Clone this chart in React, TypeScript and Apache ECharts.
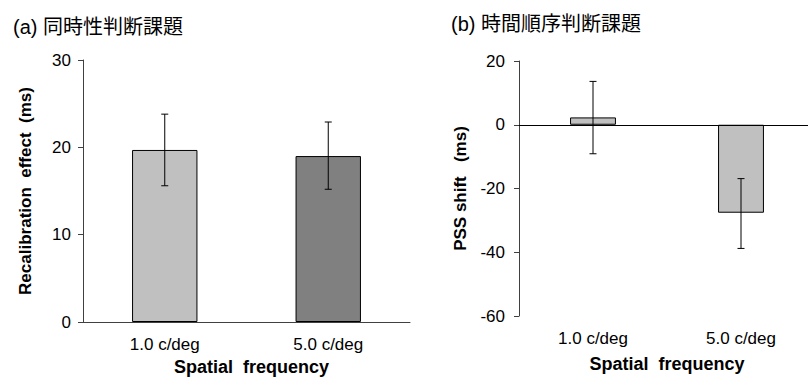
import React, { useEffect, useRef } from "react";
import * as echarts from "echarts";

const categories = ["1.0 c/deg", "5.0 c/deg"];
const sjMeans = [19.7, 19.0];
const sjLow = [15.6, 15.2];
const sjHigh = [23.8, 22.9];
const sjColors = ["#c0c0c0", "#808080"];
const tojMeans = [2.3, -27.6];
const tojLow = [-9.1, -38.8];
const tojHigh = [13.6, -16.9];
const tojColors = ["#c0c0c0", "#c0c0c0"];
const sjTicks = { min: 0, max: 30, interval: 10 };
const tojTicks = { min: -60, max: 20, interval: 20 };

const FONT = "'Liberation Sans', Arial, 'Noto Sans CJK JP', sans-serif";
const AXIS_COLOR = "#404040";

function errorSeries(low: number[], high: number[], xi: number, yi: number) {
  return {
    type: "custom",
    xAxisIndex: xi,
    yAxisIndex: yi,
    silent: true,
    z: 10,
    data: categories.map((_, i) => [i, low[i], high[i]]),
    renderItem: (params: any, api: any) => {
      const i = api.value(0);
      const lo = api.coord([i, api.value(1)]);
      const hi = api.coord([i, api.value(2)]);
      const hw = 3.5;
      const style = { stroke: "#000", lineWidth: 1 };
      return {
        type: "group",
        children: [
          { type: "line", shape: { x1: lo[0], y1: lo[1], x2: hi[0], y2: hi[1] }, style },
          { type: "line", shape: { x1: lo[0] - hw, y1: lo[1], x2: lo[0] + hw, y2: lo[1] }, style },
          { type: "line", shape: { x1: hi[0] - hw, y1: hi[1], x2: hi[0] + hw, y2: hi[1] }, style },
        ],
      };
    },
  };
}

export default function App() {
  const ref = useRef<HTMLDivElement>(null);
  useEffect(() => {
    document.body.style.margin = "0";
    const chart = echarts.init(ref.current!, null, { renderer: "svg" });
    const labelStyle = { color: "#000", fontSize: 17, fontFamily: FONT };
    const xNameStyle = { color: "#000", fontSize: 18, fontWeight: "bold" as const, fontFamily: FONT };
    const yNameStyle = { color: "#000", fontSize: 17, fontWeight: "bold" as const, fontFamily: FONT };
    chart.setOption({
      animation: false,
      backgroundColor: "#fff",
      title: [
        {
          text: "(a) 同時性判断課題",
          left: 8,
          top: 12,
          textStyle: { color: "#000", fontSize: 20, fontWeight: "normal", fontFamily: FONT },
        },
        {
          text: "(b) 時間順序判断課題",
          left: 446,
          top: 9,
          textStyle: { color: "#000", fontSize: 20, fontWeight: "normal", fontFamily: FONT },
        },
      ],
      grid: [
        { left: 83, top: 60, width: 327, height: 262, outerBoundsMode: "none" },
        { left: 519, top: 61, width: 296, height: 255, outerBoundsMode: "none" },
      ],
      xAxis: [
        {
          type: "category",
          gridIndex: 0,
          data: categories,
          axisLine: { show: true, lineStyle: { color: AXIS_COLOR, width: 1 } },
          axisTick: { show: false },
          axisLabel: { ...labelStyle, margin: 14 },
          name: "Spatial  frequency",
          nameLocation: "middle",
          nameGap: 35,
          nameTextStyle: { ...xNameStyle, padding: [0, 0, 0, 10] },
        },
        {
          type: "category",
          gridIndex: 1,
          data: categories,
          axisLine: { show: false, onZero: false },
          axisTick: { show: false },
          axisLabel: { ...labelStyle, margin: 14 },
          name: "Spatial  frequency",
          nameLocation: "middle",
          nameGap: 39,
          nameTextStyle: xNameStyle,
        },
      ],
      yAxis: [
        {
          type: "value",
          gridIndex: 0,
          ...sjTicks,
          splitLine: { show: false },
          axisLine: { show: true, lineStyle: { color: AXIS_COLOR, width: 1 } },
          axisTick: { show: true, length: 5, lineStyle: { color: AXIS_COLOR } },
          axisLabel: { ...labelStyle, margin: 12 },
          name: "Recalibration  effect  (ms)",
          nameLocation: "middle",
          nameGap: 49,
          nameTextStyle: yNameStyle,
        },
        {
          type: "value",
          gridIndex: 1,
          ...tojTicks,
          splitLine: { show: false },
          axisLine: { show: true, lineStyle: { color: AXIS_COLOR, width: 1 } },
          axisTick: { show: true, length: 5, lineStyle: { color: AXIS_COLOR } },
          axisLabel: { ...labelStyle, margin: 14 },
          name: "PSS shift   (ms)",
          nameLocation: "middle",
          nameGap: 50,
          nameTextStyle: yNameStyle,
        },
      ],
      series: [
        {
          type: "bar",
          xAxisIndex: 0,
          yAxisIndex: 0,
          barWidth: "40%",
          data: sjMeans.map((v, i) => ({
            value: v,
            itemStyle: { color: sjColors[i], borderColor: "#000", borderWidth: 1 },
          })),
        },
        errorSeries(sjLow, sjHigh, 0, 0),
        {
          type: "bar",
          xAxisIndex: 1,
          yAxisIndex: 1,
          barWidth: "31%",
          data: tojMeans.map((v, i) => ({
            value: v,
            itemStyle: { color: tojColors[i], borderColor: "#000", borderWidth: 1 },
          })),
          markLine: {
            silent: true,
            symbol: "none",
            label: { show: false },
            lineStyle: { color: "#000", width: 1, type: "solid" },
            data: [{ yAxis: 0 }],
          },
        },
        errorSeries(tojLow, tojHigh, 1, 1),
      ],
    });
    return () => chart.dispose();
  }, []);
  return <div ref={ref} style={{ width: 808, height: 378 }} />;
}
